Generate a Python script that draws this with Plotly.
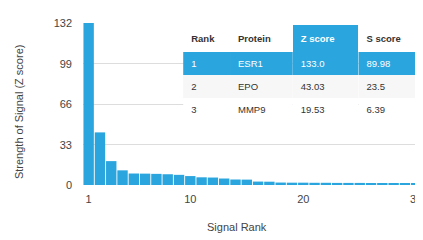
import plotly.graph_objects as go

ranks = list(range(1, 31))
z_scores = [133.0, 43.03, 19.53, 12.0, 9.4, 9.3, 9.1, 8.8, 8.3, 7.3,
            6.3, 6.1, 5.3, 4.5, 4.4, 2.8, 2.7, 2.0, 1.9, 1.9,
            1.8, 1.8, 1.7, 1.7, 1.7, 1.6, 1.6, 1.6, 1.5, 1.5]
y_ticks = [0, 33, 66, 99, 132]
x_ticks = [1, 10, 20, 30]

table_header = ["Rank", "Protein", "Z score", "S score"]
table_rank = ["1", "2", "3"]
table_protein = ["ESR1", "EPO", "MMP9"]
table_z = ["133.0", "43.03", "19.53"]
table_s = ["89.98", "23.5", "6.39"]

BLUE = "#2aa5de"
FONT = "Liberation Sans, Arial, sans-serif"

# page body adds an 8px offset; work in window pixels minus 8
OFF = 8
W, H = 423 - OFF, 240 - OFF
ml, mr, mt = 82.7 - OFF, 0, 23 - OFF
bottom = 185.5 - OFF
mb = H - bottom
pw, ph = W - ml - mr, H - mt - mb


def px(x):
    return (x - OFF - ml) / pw


def py(y):
    return (bottom - (y - OFF)) / ph


fig = go.Figure()
fig.add_trace(go.Bar(x=ranks, y=z_scores, marker=dict(color=BLUE, line=dict(width=0)),
                     hoverinfo="skip"))

row_fill = [BLUE, "#f7f7f7", "#ffffff"]
font_cols = ["white", "#333333", "#333333"]
fig.add_trace(go.Table(
    domain=dict(x=[px(183), 1], y=[py(120), py(25)]),
    columnwidth=[47, 63, 66, 64],
    header=dict(values=["<b>%s</b>" % h for h in table_header],
                fill_color=["white", "white", BLUE, "white"],
                font=dict(family=FONT, size=9.5,
                          color=["#333333", "#333333", "white", "#333333"]),
                align="left", height=23, line=dict(color="white", width=0)),
    cells=dict(values=[table_rank, table_protein, table_z, table_s],
               fill_color=[row_fill] * 4,
               font=dict(family=FONT, size=9.5, color=[font_cols] * 4),
               align="left", height=23, line=dict(color="white", width=0)),
))

fig.update_layout(
    width=W, height=H,
    margin=dict(l=ml, r=mr, t=mt, b=mb, pad=0, autoexpand=False),
    paper_bgcolor="white", plot_bgcolor="white",
    showlegend=False, bargap=0.08,
    font=dict(family=FONT, size=11, color="#444444"),
    xaxis=dict(range=[0.5, 30.6], tickvals=x_ticks, showgrid=False, zeroline=False,
               showline=False, ticks="", ticklabelstandoff=6, automargin=False,
               tickfont=dict(size=11, color="#444444")),
    yaxis=dict(range=[0, 132.5], tickvals=y_ticks, showgrid=True, gridcolor="#dddddd",
               gridwidth=1, zeroline=False, showline=False, ticks="", automargin=False,
               ticklabelstandoff=10, tickfont=dict(size=11, color="#444444")),
    annotations=[
        dict(text="Signal Rank", xref="paper", yref="paper",
             x=px(237), y=py(228), xanchor="center", yanchor="middle",
             showarrow=False, font=dict(size=11, color="#444444")),
        dict(text="Strength of Signal (Z score)", xref="paper", yref="paper",
             x=px(18), y=py(112), xanchor="center", yanchor="middle",
             textangle=-90, showarrow=False, font=dict(size=11, color="#444444")),
    ],
)

fig.write_html("out.html")
